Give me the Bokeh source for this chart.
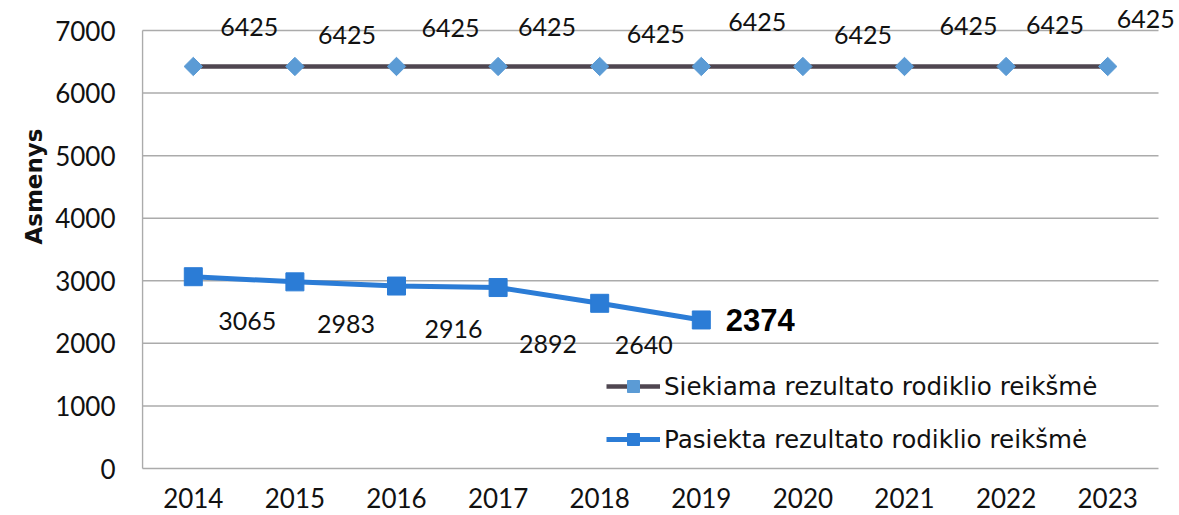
from bokeh.plotting import figure
from bokeh.models import (ColumnDataSource, LabelSet, Legend, LegendItem,
                          Range1d, FixedTicker, Title)
from bokeh.core.properties import value
from bokeh.embed import file_html
from bokeh.resources import INLINE

# ---- data ----
years = ["2014", "2015", "2016", "2017", "2018", "2019", "2020", "2021", "2022", "2023"]
target = [6425, 6425, 6425, 6425, 6425, 6425, 6425, 6425, 6425, 6425]
achieved_years = ["2014", "2015", "2016", "2017", "2018", "2019"]
achieved = [3065, 2983, 2916, 2892, 2640, 2374]
y_ticks = [0, 1000, 2000, 3000, 4000, 5000, 6000, 7000]
target_name = "Siekiama rezultato rodiklio reikšmė"
achieved_name = "Pasiekta rezultato rodiklio reikšmė"
y_title = "Asmenys"

# ---- label placement (screen px offsets, styling only) ----
target_dx = [56, 52, 54, 49, 56, 56, 60, 64, 49, 38]
target_dy = [39, 31, 38, 39, 32, 44, 31, 40, 41, 47]
achieved_dx = [54, 51, 57, 50, 44, 59]
achieved_dy = [-44, -42, -43, -56, -42, 0]

FONT = "Lato"
LEG_FONT = "DejaVu Sans"
GRID = "#ababab"
DARK = "#4f4650"
DIAMOND = "#5b9bd5"
BLUE = "#2b7cd6"

# layout (pixels)
W, H = 1179, 515
F_LEFT, F_RIGHT, F_TOP, F_BOTTOM = 141, 1177, 4, 470   # frame edges on canvas
AX_LEFT, AX_RIGHT, AX_TOP, AX_BOTTOM = 142, 1158, 30, 468  # visible axes box

n = len(years)
ymax = y_ticks[-1]
px_x = (AX_RIGHT - AX_LEFT) / n
px_y = (AX_BOTTOM - AX_TOP) / ymax
x_start = -(AX_LEFT - F_LEFT) / px_x
x_end = (F_RIGHT - AX_LEFT) / px_x
y_start = -(F_BOTTOM - AX_BOTTOM) / px_y
y_end = (AX_BOTTOM - F_TOP) / px_y

pos = {yr: i + 0.5 for i, yr in enumerate(years)}

p = figure(width=W, height=H, output_backend="svg", toolbar_location=None,
           x_range=Range1d(x_start, x_end), y_range=Range1d(y_start, y_end),
           min_border_left=F_LEFT, min_border_right=W - F_RIGHT,
           min_border_top=F_TOP, min_border_bottom=H - F_BOTTOM)
p.outline_line_color = None
p.background_fill_color = "white"
p.border_fill_color = "white"
p.xgrid.grid_line_color = None
p.ygrid.grid_line_color = None

p.xaxis.ticker = FixedTicker(ticks=[pos[y] for y in years])
p.xaxis.major_label_overrides = {pos[y]: y for y in years}
p.yaxis.ticker = FixedTicker(ticks=y_ticks)

for ax in (p.xaxis[0], p.yaxis[0]):
    ax.axis_line_color = None
    ax.major_tick_line_color = None
    ax.minor_tick_line_color = None
    ax.major_tick_out = 0
    ax.major_tick_in = 0
    ax.major_label_text_font = FONT
    ax.major_label_text_font_size = "26px"
    ax.major_label_text_color = "#111111"
p.yaxis.major_label_standoff = 25 + (AX_LEFT - F_LEFT)
p.xaxis.major_label_standoff = 19 - (F_BOTTOM - AX_BOTTOM)

# y-axis title, placed higher along the axis like the reference
p.add_layout(Title(text=y_title, align="right", offset=124, standoff=12,
                   text_font="DejaVu Sans", text_font_style="bold",
                   text_font_size="23px", text_color="#111111"), "left")

# gridlines and axis lines
grid_y = y_ticks[1:]
p.segment(x0=[0] * len(grid_y), x1=[n] * len(grid_y), y0=grid_y, y1=grid_y,
          line_color=GRID, line_width=1.5)
p.segment(x0=[0, 0], x1=[0, n], y0=[0, 0], y1=[ymax, 0], line_color=GRID, line_width=1.5)

# ---- series ----
src_t = ColumnDataSource(dict(x=[pos[y] for y in years], y=target,
                              lbl=[str(v) for v in target], dx=target_dx, dy=target_dy))
src_a = ColumnDataSource(dict(x=[pos[y] for y in achieved_years[:-1]], y=achieved[:-1],
                              lbl=[str(v) for v in achieved[:-1]],
                              dx=achieved_dx[:-1], dy=achieved_dy[:-1]))
src_last = ColumnDataSource(dict(x=[pos[y] for y in achieved_years[-1:]], y=achieved[-1:],
                                 lbl=[str(v) for v in achieved[-1:]],
                                 dx=achieved_dx[-1:], dy=achieved_dy[-1:]))
src_aline = ColumnDataSource(dict(x=[pos[y] for y in achieved_years], y=achieved))

lt = p.line("x", "y", source=src_t, line_color=DARK, line_width=4.5)
st = p.scatter("x", "y", source=src_t, marker="square", size=13, angle=0.785398,
               fill_color=DIAMOND, line_color=DIAMOND)
la = p.line("x", "y", source=src_aline, line_color=BLUE, line_width=5)
sa = p.scatter("x", "y", source=src_aline, marker="square", size=18,
               fill_color=BLUE, line_color=BLUE)

common = dict(x="x", y="y", text="lbl", x_offset="dx", y_offset="dy",
              text_align="center", text_baseline="middle")
p.add_layout(LabelSet(source=src_t, text_font=value(FONT), text_font_size="25px",
                      text_color="#111111", **common))
p.add_layout(LabelSet(source=src_a, text_font=value(FONT), text_font_size="25px",
                      text_color="#111111", **common))
p.add_layout(LabelSet(source=src_last, text_font=value("Liberation Sans"),
                      text_font_style="bold", text_font_size="31px",
                      text_color="#000000", **common))

legend = Legend(items=[LegendItem(label=target_name, renderers=[lt, st]),
                       LegendItem(label=achieved_name, renderers=[la, sa])],
                location=(606 - F_LEFT, F_BOTTOM - 454), orientation="vertical",
                background_fill_alpha=0, border_line_alpha=0,
                padding=0, margin=0, spacing=23,
                glyph_width=54, glyph_height=30, label_height=30, label_standoff=4,
                label_text_font=LEG_FONT, label_text_font_size="24.6px",
                label_text_color="#111111")
p.add_layout(legend)

open("out.html", "w").write(file_html(p, INLINE))
